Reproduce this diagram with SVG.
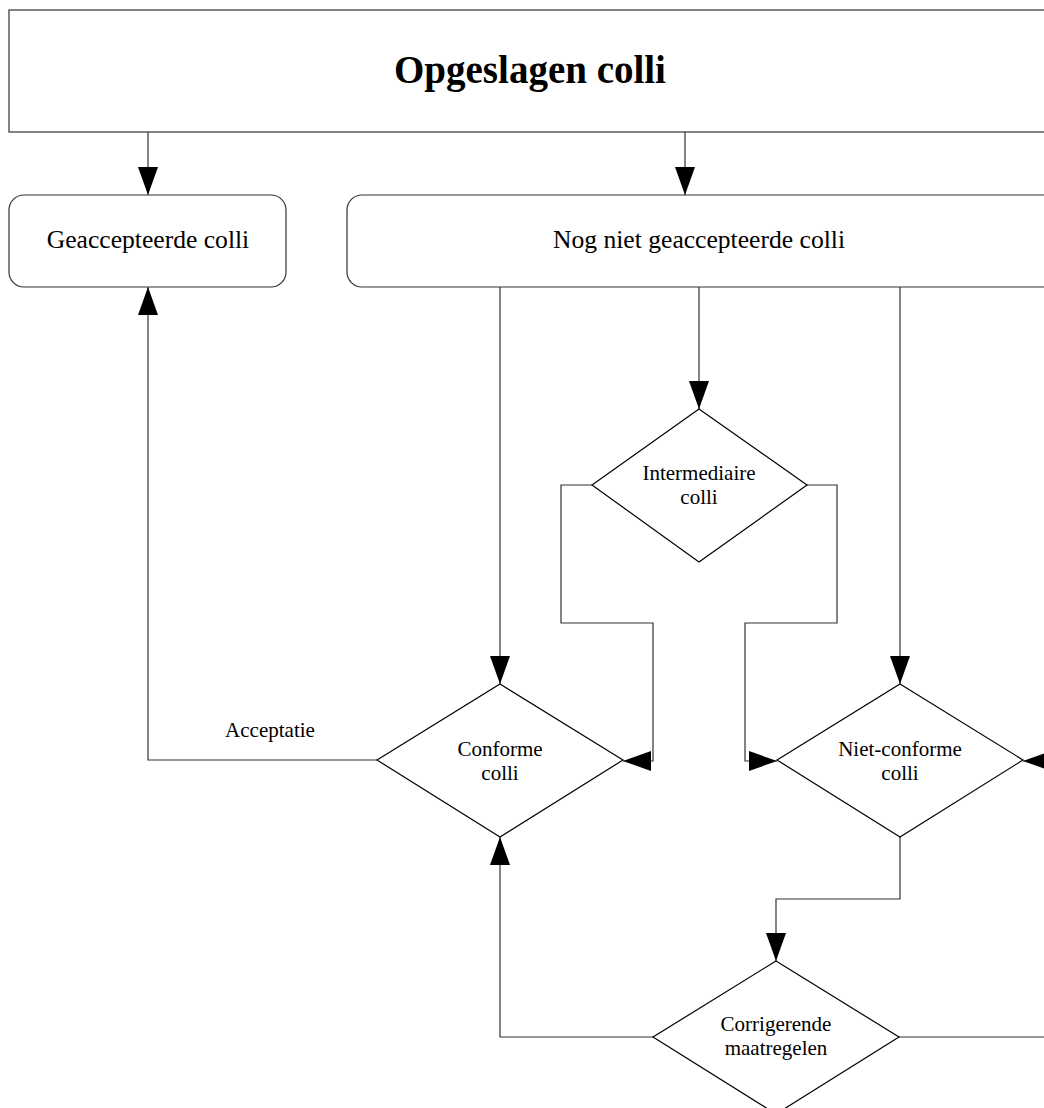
<svg xmlns="http://www.w3.org/2000/svg" width="1044" height="1108" viewBox="0 0 1044 1108">
<defs>
<marker id="ah" markerUnits="userSpaceOnUse" markerWidth="28" markerHeight="20" viewBox="0 0 28 20" refX="28" refY="10" orient="auto">
<path d="M0,0 L28,10 L0,20 Z" fill="#000"/>
</marker>
</defs>
<style>
.box{fill:#fff;stroke:#333;stroke-width:1.2}
.dia{fill:#fff;stroke:#000;stroke-width:1.2}
.con{fill:none;stroke:#333;stroke-width:1.2}
.arr{marker-end:url(#ah)}
.t{font-family:"Liberation Serif","Times New Roman",serif;fill:#000;text-anchor:middle}
.title{font-size:39px;font-weight:bold}
.bt{font-size:25.6px}
.dt{font-size:21px}
</style>
<rect width="1044" height="1108" fill="#fff"/>
<g id="connectors">
<path class="con arr" d="M148,132 L148,195"/>
<path class="con arr" d="M685,132 L685,195"/>
<path class="con arr" d="M500,287 L500,684"/>
<path class="con arr" d="M699,287 L699,409"/>
<path class="con arr" d="M900,287 L900,684"/>
<path class="con arr" d="M592,485 L561,485 L561,623 L653,623 L653,761 L623,761"/>
<path class="con arr" d="M807,485 L837,485 L837,623 L745,623 L745,761 L777,761"/>
<path class="con arr" d="M377,760 L148,760 L148,287"/>
<path class="con arr" d="M1060,761 L1023,761"/>
<path class="con arr" d="M900,837 L900,899 L776,899 L776,961"/>
<path class="con arr" d="M653,1037 L500,1037 L500,837"/>
<path class="con" d="M899,1037 L1050,1037"/>
<text class="t dt" x="270" y="737">Acceptatie</text>
</g>
<g id="opgeslagen">
<rect class="box" x="9" y="10" width="1060" height="122"/>
<text class="t title" x="530" y="83">Opgeslagen colli</text>
</g>
<g id="geaccepteerd">
<rect class="box" x="9" y="195" width="277" height="92" rx="15" ry="15"/>
<text class="t bt" x="148" y="248">Geaccepteerde colli</text>
</g>
<g id="nognietgeaccepteerd">
<rect class="box" x="347" y="195" width="720" height="92" rx="15" ry="15"/>
<text class="t bt" x="699" y="248">Nog niet geaccepteerde colli</text>
</g>
<g id="intermediair">
<polygon class="dia" points="699,409 807,485 699,562 592,485"/>
<text class="t dt" x="699" y="480">Intermediaire</text>
<text class="t dt" x="699" y="504">colli</text>
</g>
<g id="conform">
<polygon class="dia" points="500,684 623,760 500,837 377,760"/>
<text class="t dt" x="500" y="756">Conforme</text>
<text class="t dt" x="500" y="780">colli</text>
</g>
<g id="nietconform">
<polygon class="dia" points="900,684 1023,760 900,837 777,760"/>
<text class="t dt" x="900" y="756">Niet-conforme</text>
<text class="t dt" x="900" y="780">colli</text>
</g>
<g id="corrigerend">
<polygon class="dia" points="776,961 899,1037 776,1114 653,1037"/>
<text class="t dt" x="776" y="1031">Corrigerende</text>
<text class="t dt" x="776" y="1055">maatregelen</text>
</g>
</svg>
